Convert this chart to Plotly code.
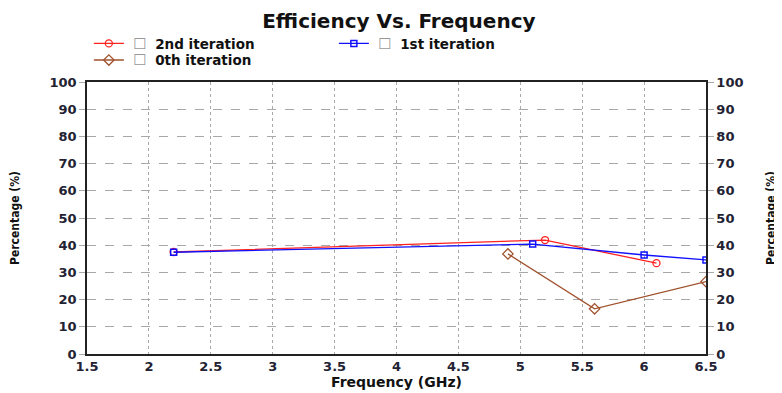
import plotly.graph_objects as go

# Data
x_2nd = [2.2, 5.2, 6.1]
y_2nd = [37.5, 41.9, 33.4]
x_1st = [2.2, 5.1, 6.0, 6.5]
y_1st = [37.4, 40.4, 36.4, 34.6]
x_0th = [4.9, 5.6, 6.5]
y_0th = [36.8, 16.6, 26.6]

x_ticks = [1.5, 2, 2.5, 3, 3.5, 4, 4.5, 5, 5.5, 6, 6.5]
y_ticks = [0, 10, 20, 30, 40, 50, 60, 70, 80, 90, 100]

FONT = "DejaVu Sans, Liberation Sans, Arial"
box = '&#160;<span style="color:#999;font-weight:normal;font-size:15px">☐</span>&#160;&#160;'

fig = go.Figure()
fig.add_trace(go.Scatter(x=x_2nd, y=y_2nd, mode="lines+markers", name=box + "<b>2nd iteration</b>",
                         legend="legend",
                         line=dict(color="#ff2020", width=1.3),
                         marker=dict(symbol="circle-open", size=7, color="#ff2020", line=dict(width=1.3))))
fig.add_trace(go.Scatter(x=x_1st, y=y_1st, mode="lines+markers", name=box + "<b>1st iteration</b>",
                         legend="legend",
                         line=dict(color="#1010ff", width=1.3),
                         marker=dict(symbol="square-open", size=6, color="#1010ff", line=dict(width=1.5))))
fig.add_trace(go.Scatter(x=x_0th, y=y_0th, mode="lines+markers", name=box + "<b>0th iteration</b>",
                         legend="legend2",
                         line=dict(color="#a0522d", width=1.3),
                         marker=dict(symbol="diamond-open", size=8, color="#a0522d", line=dict(width=1.3))))
# invisible trace for right axis
fig.add_trace(go.Scatter(x=[1.5], y=[0], yaxis="y2", showlegend=False, mode="markers",
                         marker=dict(opacity=0), hoverinfo="skip"))

tickfont = dict(family=FONT, size=13, color="#222233")
titlefont = dict(family="DejaVu Sans Condensed, Liberation Sans Narrow, Liberation Sans", size=12, color="#111111")
legfont = dict(family=FONT, size=13.5, color="#111111")

# page body has an 8px margin, so the figure is 8px smaller and margins shifted
fig.update_layout(
    width=774, height=385,
    margin=dict(l=79, r=76, t=74, b=39, autoexpand=False),
    paper_bgcolor="white", plot_bgcolor="white",
    title=dict(text="<b>Efficiency Vs. Frequency</b>", x=0.505, xanchor="center", y=0.965, yanchor="middle",
               font=dict(family=FONT, size=20, color="#111111")),
    font=dict(family=FONT),
    showlegend=True,
    legend=dict(orientation="h", x=0.003, xanchor="left", y=1.141, yanchor="middle",
                entrywidth=200, entrywidthmode="pixels", tracegroupgap=0,
                font=legfont, bgcolor="rgba(0,0,0,0)", itemwidth=30),
    legend2=dict(orientation="h", x=0.003, xanchor="left", y=1.080, yanchor="middle",
                 entrywidth=200, entrywidthmode="pixels", tracegroupgap=0,
                 font=legfont, bgcolor="rgba(0,0,0,0)", itemwidth=30),
    xaxis=dict(range=[1.5, 6.5], tickvals=x_ticks, ticktext=["<b>%g</b>" % v for v in x_ticks],
               showgrid=True, gridcolor="#a8a8a8", griddash="dot", gridwidth=1.3,
               showline=True, linecolor="#222222", linewidth=1.5, mirror=True,
               ticks="", tickfont=tickfont, zeroline=False, automargin=False,
               title=dict(text="<b>Frequency (GHz)</b>", font=dict(family=FONT, size=14, color="#111111"), standoff=0)),
    yaxis=dict(range=[0, 100], tickvals=y_ticks, ticktext=["<b>%g</b>" % v for v in y_ticks],
               showgrid=True, gridcolor="#a8a8a8", griddash="dash", gridwidth=1,
               showline=True, linecolor="#222222", linewidth=1.5, automargin=False,
               ticks="outside", ticklen=6, tickcolor="#a8a8a8", tickfont=tickfont, zeroline=False,
               title=dict(text="<b>Percentage (%)</b>", font=titlefont, standoff=28)),
    yaxis2=dict(range=[0, 100], tickvals=y_ticks, ticktext=["<b>%g</b>" % v for v in y_ticks],
                overlaying="y", side="right", showgrid=False, automargin=False,
                showline=True, linecolor="#222222", linewidth=1.5,
                ticks="outside", ticklen=6, tickcolor="#a8a8a8", tickfont=tickfont, zeroline=False,
                title=dict(text="<b>Percentage (%)</b>", font=titlefont, standoff=24)),
)

fig.write_html("out.html")
